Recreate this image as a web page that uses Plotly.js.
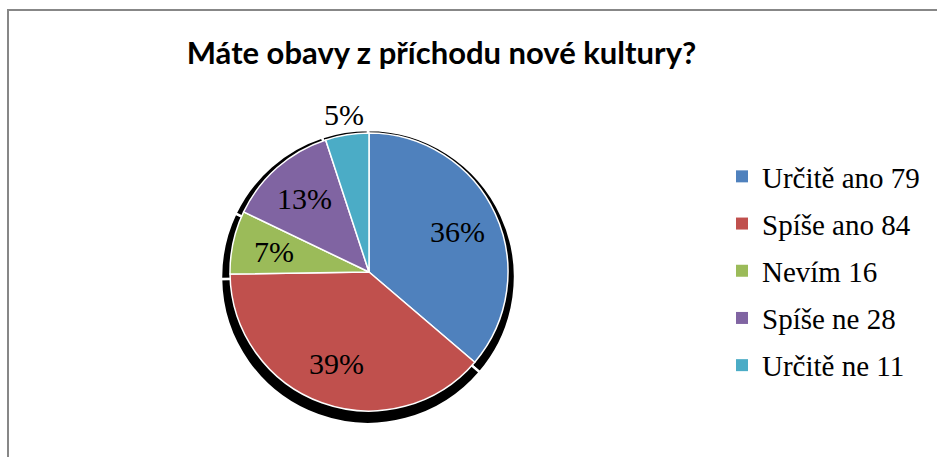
<!DOCTYPE html>
<html>
<head>
<meta charset="utf-8">
<script src="https://cdn.plot.ly/plotly-3.0.1.min.js"></script>
<style>
html,body{margin:0;padding:0;background:#fff;overflow:hidden;}
#chart{width:937px;height:457px;}
</style>
</head>
<body>
<div id="chart"></div>
<script>
// ---- data ----
const categories = ["Určitě ano", "Spíše ano", "Nevím", "Spíše ne", "Určitě ne"];
const counts = [79, 84, 16, 28, 11];
const colors = ["#4F81BD", "#C0504D", "#9BBB59", "#8064A2", "#4BACC6"];
const legendLabels = categories.map((c, i) => c + " " + counts[i]);
const labelOutside = [false, false, false, false, true];

const W = 937, H = 457;
const SERIF = "Liberation Serif";
// pie geometry (pixels)
const CX = 369, CY = 272, R = 139;
const SCX = 368, SCY = 277, SR = 147;
const px = v => v / W;
const py = v => 1 - v / H;

const shadow = {
  type: "pie",
  values: counts,
  labels: categories,
  sort: false,
  direction: "clockwise",
  rotation: 0,
  marker: {colors: counts.map(() => "#000000"), line: {color: "#ffffff", width: 2.5}},
  textinfo: "none",
  hoverinfo: "skip",
  showlegend: false,
  domain: {x: [px(SCX - SR), px(SCX + SR)], y: [py(SCY + SR), py(SCY - SR)]}
};

const pie = {
  type: "pie",
  values: counts,
  labels: categories,
  sort: false,
  direction: "clockwise",
  rotation: 0,
  marker: {colors: colors, line: {color: "#ffffff", width: 1.5}},
  textinfo: "none",
  showlegend: false,
  domain: {x: [px(CX - R), px(CX + R)], y: [py(CY + R), py(CY - R)]}
};

// percentage labels placed along each slice's bisector
const total = counts.reduce((a, b) => a + b, 0);
let cum = 0;
const annotations = counts.map((v, i) => {
  const mid = (cum + v / 2) / total;
  cum += v;
  const ang = mid * 2 * Math.PI;
  const rf = labelOutside[i] ? 1.15 : 0.7;
  const x = CX + Math.sin(ang) * R * rf;
  const y = CY - Math.cos(ang) * R * rf;
  return {
    xref: "paper", yref: "paper",
    x: px(x), y: py(y),
    xanchor: "center", yanchor: "middle",
    showarrow: false,
    text: Math.round(v / total * 100) + "%",
    font: {family: SERIF, size: 30, color: "#000000"}
  };
});

const legendTraces = legendLabels.map((name, i) => ({
  type: "scatter",
  mode: "markers",
  x: [null], y: [null],
  name: name,
  legendgroup: "g" + i,
  marker: {symbol: "square", size: 12, color: colors[i]},
  hoverinfo: "skip"
}));

const layout = {
  width: W, height: H,
  margin: {l: 0, r: 0, t: 0, b: 0},
  paper_bgcolor: "#ffffff",
  plot_bgcolor: "rgba(0,0,0,0)",
  font: {family: SERIF, size: 29, color: "#000000"},
  title: {
    text: "Máte obavy z příchodu nové kultury?",
    font: {family: "Lato", size: 31, weight: "bold", color: "#000000"},
    x: 441.5 / W, xanchor: "center",
    y: 1 - 53 / H, yanchor: "middle", yref: "container"
  },
  xaxis: {visible: false, domain: [0.9, 0.95]},
  yaxis: {visible: false, domain: [0.9, 0.95]},
  showlegend: true,
  legend: {
    x: px(722), xanchor: "left",
    y: py(271), yanchor: "middle",
    font: {family: SERIF, size: 29, color: "#000000"},
    tracegroupgap: 6.5,
    bgcolor: "rgba(0,0,0,0)",
    itemclick: false, itemdoubleclick: false
  },
  annotations: annotations,
  shapes: [{
    type: "rect", xref: "paper", yref: "paper", layer: "below",
    x0: px(8), y0: py(10), x1: 1.2, y1: -0.2,
    line: {color: "#878787", width: 2}, fillcolor: "rgba(0,0,0,0)"
  }]
};

Plotly.newPlot("chart", [shadow, pie].concat(legendTraces), layout, {displayModeBar: false, staticPlot: true});
</script>
</body>
</html>
